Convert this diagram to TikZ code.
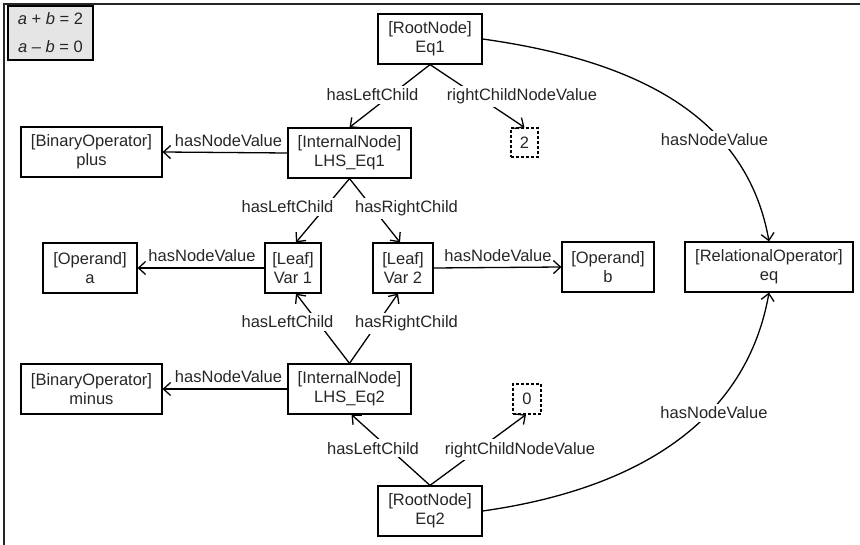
\documentclass[tikz,border=0pt]{standalone}
\usepackage{fontspec}
\setmainfont{Liberation Sans}
\usetikzlibrary{arrows.meta}
\begin{document}
\begin{tikzpicture}[x=1pt,y=-1pt,
  every node/.style={font=\fontsize{16.5}{19}\selectfont, text=black!85},
  box/.style={draw=black, line width=1.2pt, align=center, inner sep=0pt, minimum height=50pt},
  valbox/.style={draw=black, line width=1.2pt, dash pattern=on 3pt off 2pt, inner sep=0pt},
  edge/.style={draw=black, line width=1.3pt, -{Straight Barb[length=7pt,width=13pt]}},
  lab/.style={fill=white, inner sep=3pt, anchor=base},
  toplab/.style={inner sep=0pt, anchor=base}
]
\useasboundingbox (0,0) rectangle (860,545);
\draw[line width=2pt, black!85] (4,545) -- (4,4) -- (860,4);

\node[draw=black, line width=1.2pt, fill=black!10, minimum width=85pt, minimum height=54pt,
  align=center, inner sep=0pt, font=\fontsize{16.5}{28}\selectfont] (eqs) at (50.5,33)
  {\textit{a} + \textit{b} = 2\\\textit{a} – \textit{b} = 0};

\node[box, minimum width=104pt] (eq1) at (430,39) {[RootNode]\\Eq1};
\node[valbox, minimum width=27pt, minimum height=29pt] (two) at (524.5,142.5) {2};
\node[box, minimum width=123pt] (lhs1) at (349.5,153) {[InternalNode]\\LHS\_Eq1};
\node[box, minimum width=141pt] (plus) at (91.5,152) {[BinaryOperator]\\plus};
\node[box, minimum width=94pt] (opa) at (90,268) {[Operand]\\a};
\node[box, minimum width=56pt] (var1) at (293,268) {[Leaf]\\Var 1};
\node[box, minimum width=60pt] (var2) at (403,268) {[Leaf]\\Var 2};
\node[box, minimum width=92pt] (opb) at (608,267) {[Operand]\\b};
\node[box, minimum width=168pt] (eq) at (769,267) {[RelationalOperator]\\eq};
\node[box, minimum width=141pt] (minus) at (91.5,389) {[BinaryOperator]\\minus};
\node[box, minimum width=123pt] (lhs2) at (349.5,389) {[InternalNode]\\LHS\_Eq2};
\node[valbox, minimum width=28pt, minimum height=30pt] (zero) at (527,399) {0};
\node[box, minimum width=104pt] (eq2) at (430,511) {[RootNode]\\Eq2};

\draw[edge] (eq1.south) -- (lhs1.north);
\draw[edge] (eq1.south) -- (two.north);
\draw[edge] (eq1.east) to[out=-8,in=100] (eq.north);
\draw[edge] (lhs1.west) -- (plus.east);
\draw[edge] (lhs1.south) -- ([xshift=3pt]var1.north);
\draw[edge] (lhs1.south) -- ([xshift=-3pt]var2.north);
\draw[edge] (var1.west) -- (opa.east);
\draw[edge] (var2.east) -- (opb.west);
\draw[edge] (lhs2.north) -- ([xshift=3pt]var1.south);
\draw[edge] (lhs2.north) -- ([xshift=-5pt]var2.south);
\draw[edge] (lhs2.west) -- (minus.east);
\draw[edge] (eq2.north) -- ([xshift=2pt]lhs2.south);
\draw[edge] (eq2.north) -- ([xshift=-1pt]zero.south);
\draw[edge] (eq2.east) to[out=8,in=-100] (eq.south);

\node[lab] (l1) at (372.5,101) {hasLeftChild};
\node[lab] (l2) at (522,101) {rightChildNodeValue};
\node[lab] (l3) at (714.5,146) {hasNodeValue};
\node[toplab] (l4) at (228.5,147) {hasNodeValue};
\node[lab] (l5) at (287.5,213) {hasLeftChild};
\node[lab] (l6) at (406.5,213) {hasRightChild};
\node[toplab] (l7) at (202,262) {hasNodeValue};
\node[toplab] (l8) at (498,262) {hasNodeValue};
\node[lab] (l9) at (287.5,328) {hasLeftChild};
\node[lab] (l10) at (406.5,328) {hasRightChild};
\node[toplab] (l11) at (228.5,383) {hasNodeValue};
\node[lab] (l12) at (373,454) {hasLeftChild};
\node[lab] (l13) at (520,454) {rightChildNodeValue};
\node[lab] (l14) at (714,419) {hasNodeValue};
\end{tikzpicture}
\end{document}
